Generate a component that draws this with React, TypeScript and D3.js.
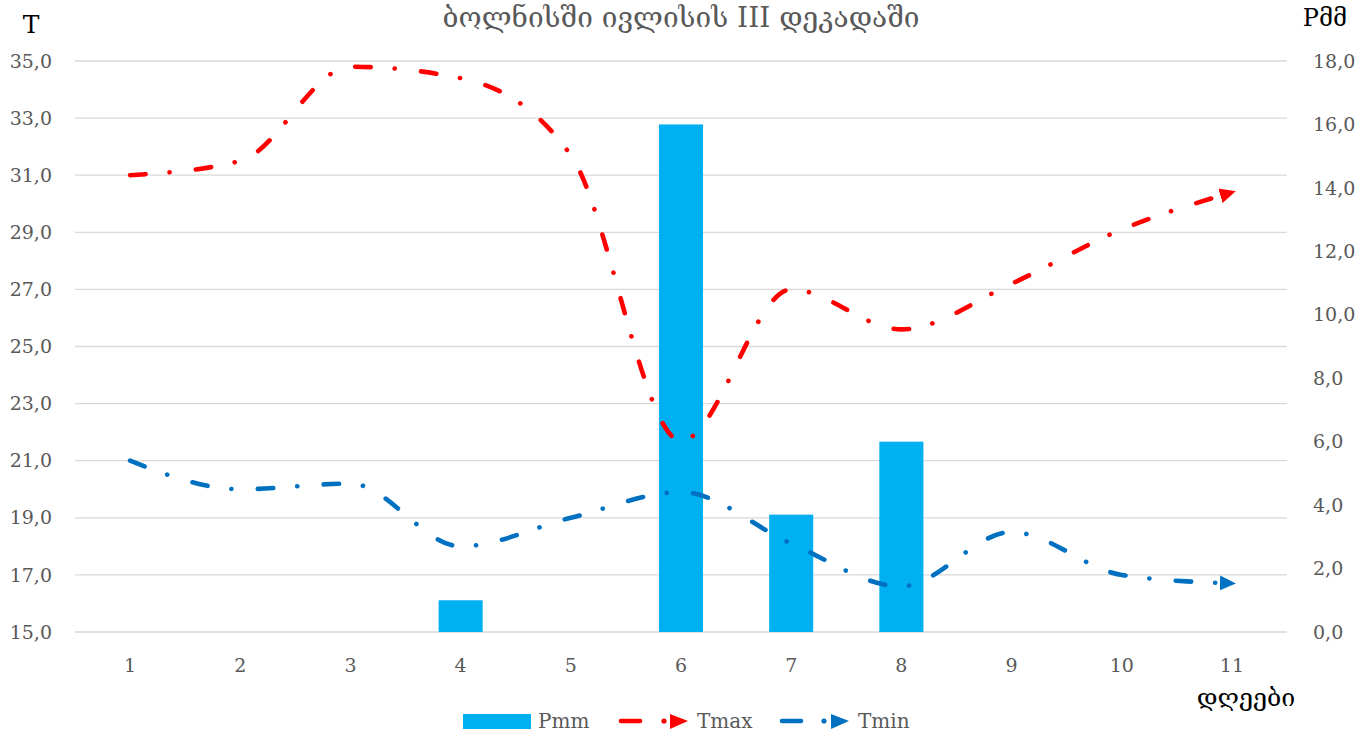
import * as d3 from "d3";

const days = ["1", "2", "3", "4", "5", "6", "7", "8", "9", "10", "11"];
const pmm = [0, 0, 0, 1.0, 0, 16.0, 3.7, 6.0, 0, 0, 0];
const tmax = [31.0, 31.5, 34.8, 34.4, 31.7, 21.7, 27.0, 25.6, 27.2, 29.1, 30.4];
const tmin = [21.0, 20.0, 20.2, 18.0, 19.0, 19.9, 18.1, 16.6, 18.5, 17.0, 16.7];
const leftTicks = [15, 17, 19, 21, 23, 25, 27, 29, 31, 33, 35];
const rightTicks = [0, 2, 4, 6, 8, 10, 12, 14, 16, 18];

const W = 1367;
const H = 736;
const FONT = "'DejaVu Serif', 'Liberation Serif', serif";
const GREY = "#595959";
const RED = "#FF0000";
const BLUE = "#0070C0";
const BAR = "#00B0F0";
const DASH = "15.5 24 0.1 26.4";

const fmt = (v: number) => v.toFixed(1).replace(".", ",");

export default function App() {
  const x = d3.scaleBand<string>().domain(days).range([75, 1287]).padding(0);
  const yL = d3.scaleLinear().domain([15, 35]).range([632, 61]);
  const yR = d3.scaleLinear().domain([0, 18]).range([632, 61]);
  const cx = (d: string) => (x(d) ?? 0) + x.bandwidth() / 2;
  const barW = x.bandwidth() * 0.4;

  // smoothed line, no overshoot past the peaks (closer to the spreadsheet look)
  const line = d3
    .line<number>()
    .x((_, i) => cx(days[i]))
    .y((v) => yL(v))
    .curve(d3.curveMonotoneX);

  return (
    <svg
      width={W}
      height={H}
      style={{ position: "absolute", left: 0, top: 0, background: "#fff" }}
      fontFamily={FONT}
    >
      <defs>
        {[
          ["arrRed", RED],
          ["arrBlue", BLUE],
        ].map(([id, c]) => (
          <marker
            key={id}
            id={id}
            markerUnits="userSpaceOnUse"
            markerWidth={20}
            markerHeight={18}
            viewBox="0 -9 20 18"
            refX={12}
            refY={0}
            orient="auto"
          >
            <path d="M0,-7.5L16,0L0,7.5Z" fill={c} />
          </marker>
        ))}
      </defs>

      {/* title */}
      <text x={681} y={27} textAnchor="middle" fontSize={28} fill={GREY}>
        ბოლნისში ივლისის III დეკადაში
      </text>

      {/* gridlines */}
      {leftTicks.map((t) => (
        <line key={t} x1={75} x2={1287} y1={yL(t)} y2={yL(t)} stroke="#D9D9D9" strokeWidth={1.3} />
      ))}

      {/* left axis labels */}
      {leftTicks.map((t) => (
        <text key={t} x={52} y={yL(t)} dy="0.35em" textAnchor="end" fontSize={19} fill={GREY}>
          {fmt(t)}
        </text>
      ))}
      {/* right axis labels */}
      {rightTicks.map((t) => (
        <text key={t} x={1313} y={yR(t)} dy="0.35em" textAnchor="start" fontSize={19} fill={GREY}>
          {fmt(t)}
        </text>
      ))}
      {/* x labels */}
      {days.map((d) => (
        <text key={d} x={cx(d)} y={665} dy="0.35em" textAnchor="middle" fontSize={19} fill={GREY}>
          {d}
        </text>
      ))}

      <text x={31} y={33} textAnchor="middle" fontSize={25} fill="#000">T</text>
      <text x={1325} y={26} textAnchor="middle" fontSize={24} fill="#000">Pმმ</text>
      <text x={1246} y={706} textAnchor="middle" fontSize={25} fill="#000">დღეები</text>

      {/* bars */}
      {pmm.map((v, i) =>
        v > 0 ? (
          <rect
            key={i}
            x={cx(days[i]) - barW / 2}
            y={yR(v)}
            width={barW}
            height={yR(0) - yR(v)}
            fill={BAR}
          />
        ) : null
      )}

      {/* lines */}
      <path
        d={line(tmax) ?? ""}
        fill="none"
        stroke={RED}
        strokeWidth={4.6}
        strokeLinecap="round"
        strokeDasharray={DASH}
        markerEnd="url(#arrRed)"
      />
      <path
        d={line(tmin) ?? ""}
        fill="none"
        stroke={BLUE}
        strokeWidth={4.6}
        strokeLinecap="round"
        strokeDasharray={DASH}
        markerEnd="url(#arrBlue)"
      />

      {/* legend */}
      <g>
        <rect x={463} y={714} width={68} height={15} fill={BAR} />
        <text x={538} y={721} dy="0.35em" fontSize={20} fill={GREY}>Pmm</text>

        <line x1={621} x2={640} y1={721} y2={721} stroke={RED} strokeWidth={4.6} strokeLinecap="round" />
        <circle cx={664} cy={721} r={2.6} fill={RED} />
        <path d="M670,714L688,721L670,729Z" fill={RED} />
        <text x={697} y={721} dy="0.35em" fontSize={20} fill={GREY}>Tmax</text>

        <line x1={782} x2={801} y1={721} y2={721} stroke={BLUE} strokeWidth={4.6} strokeLinecap="round" />
        <circle cx={824} cy={721} r={2.6} fill={BLUE} />
        <path d="M831,714L849,721L831,729Z" fill={BLUE} />
        <text x={858} y={721} dy="0.35em" fontSize={20} fill={GREY}>Tmin</text>
      </g>
    </svg>
  );
}
